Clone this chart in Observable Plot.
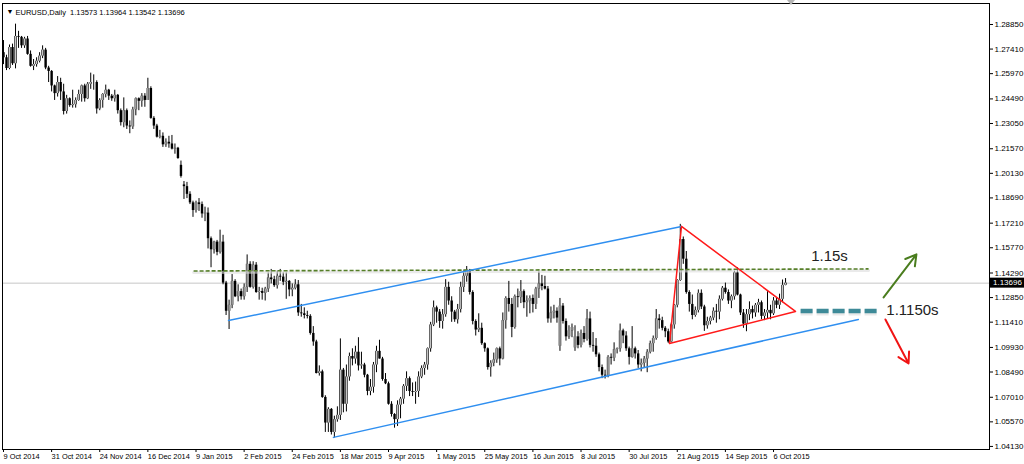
<!DOCTYPE html>
<html><head><meta charset="utf-8">
<script src="https://cdn.jsdelivr.net/npm/d3@7"></script>
<script src="https://cdn.jsdelivr.net/npm/@observablehq/plot@0.6"></script>
<style>
html,body{margin:0;padding:0;background:#fff;}
#chart{position:relative;width:1024px;height:464px;overflow:hidden;background:#fff;}
#shift{position:absolute;left:787px;top:0px;width:0;height:0;border-left:4px solid transparent;border-right:4px solid transparent;border-top:5px solid #b4b4b4;}
</style></head><body><div id="chart"></div>
<script>
const symbol = "EURUSD,Daily";

// Daily bars, 9 Oct 2014 .. 12 Oct 2015 (index 0..260)
const opens = [
1.2720,1.2690,1.2627,1.2750,1.2655,1.2815,1.2810,1.2760,1.2800,1.2710,1.2640,1.2650,1.2670,1.2700,1.2735,1.2630,1.2610,
1.2525,1.2480,1.2545,1.2490,1.2375,1.2450,1.2410,1.2415,1.2440,1.2475,1.2525,1.2450,1.2535,1.2545,1.2545,1.2390,1.2440,1.2475,1.2500,1.2465,
1.2450,1.2470,1.2380,1.2310,1.2380,1.2290,1.2285,1.2385,1.2450,1.2435,1.2465,1.2440,1.2510,1.2335,1.2290,1.2225,1.2230,1.2180,1.2195,1.2185,1.2155,1.2160,
1.2060,1.1945,1.1935,1.1890,1.1840,1.1795,1.1840,1.1830,1.1775,1.1780,1.1630,1.1565,1.1610,1.1550,1.1610,1.1370,1.1205,1.1240,1.1380,1.1290,1.1320,
1.1290,1.1345,1.1480,1.1345,1.1475,1.1315,1.1320,1.1310,1.1335,1.1400,1.1390,1.1355,1.1410,1.1405,1.1375,1.1380,1.1330,1.1340,1.1360,1.1195,
1.1190,1.1180,1.1175,1.1075,1.1025,1.0840,1.0850,1.0700,1.0550,1.0630,1.0495,1.0570,1.0595,1.0860,1.0660,1.0820,1.0940,1.0925,1.0965,1.0885,1.0890,1.0830,
1.0735,1.0760,1.0890,1.0970,1.0925,1.0805,1.0780,1.0660,1.0600,1.0570,1.0655,1.0690,1.0765,1.0810,1.0735,1.0730,1.0735,1.0820,1.0870,1.0890,1.0985,1.1125,
1.1225,1.1200,1.1145,1.1185,1.1345,1.1265,1.1200,1.1155,1.1215,1.1345,1.1410,1.1445,1.1315,1.1145,1.1095,1.1105,1.1015,1.0985,1.0875,1.0900,1.0920,
1.0985,1.0925,1.1150,1.1280,1.1245,1.1110,1.1290,1.1285,1.1320,1.1255,1.1265,1.1280,1.1245,1.1335,1.1365,1.1350,1.1335,1.1160,1.1195,1.1205,1.1000,1.1235,
1.1145,1.1055,1.1090,1.0990,1.1055,1.1005,1.1075,1.1040,1.1160,1.1005,1.1000,1.0950,1.0875,1.0830,1.0825,1.0935,1.0930,1.0980,1.0985,1.1090,1.1060,1.0985,1.0935,
1.0985,1.0955,1.0890,1.0900,1.0925,1.0965,1.1015,1.1045,1.1160,1.1150,1.1105,1.1085,1.1025,1.1125,1.1240,1.1385,1.1625,1.1510,1.1315,1.1245,1.1180,
1.1210,1.1310,1.1230,1.1120,1.1145,1.1165,1.1205,1.1200,1.1275,1.1340,1.1315,1.1265,1.1290,1.1430,1.1300,1.1195,1.1130,1.1185,1.1215,1.1195,1.1240,1.1255,
1.1175,1.1195,1.1210,1.1190,1.1265,1.1240,1.1275,1.13573
];
const highs = [
1.2791,1.2705,1.2765,1.2770,1.2887,1.2845,1.2815,1.2810,1.2815,1.2730,1.2680,1.2690,1.2720,1.2760,1.2745,1.2640,1.2615,
1.2530,1.2580,1.2570,1.2535,1.2470,1.2455,1.2500,1.2455,1.2500,1.2530,1.2535,1.2545,1.2600,1.2590,1.2555,1.2450,1.2480,1.2530,1.2505,1.2475,
1.2500,1.2475,1.2390,1.2455,1.2390,1.2320,1.2400,1.2455,1.2455,1.2480,1.2480,1.2570,1.2520,1.2345,1.2300,1.2265,1.2250,1.2215,1.2230,1.2235,1.2185,1.2165,
1.2085,1.1965,1.1960,1.1905,1.1850,1.1850,1.1865,1.1845,1.1815,1.1810,1.1640,1.1615,1.1620,1.1680,1.1650,1.1380,1.1270,1.1420,1.1390,1.1360,1.1335,
1.1365,1.1535,1.1495,1.1495,1.1490,1.1345,1.1340,1.1345,1.1430,1.1450,1.1410,1.1440,1.1450,1.1430,1.1430,1.1385,1.1365,1.1390,1.1385,1.1245,
1.1225,1.1205,1.1185,1.1115,1.1035,1.0885,1.0860,1.0710,1.0640,1.0635,1.0590,1.0645,1.1043,1.0870,1.0890,1.0960,1.0985,1.1000,1.1050,1.0965,1.0900,1.0835,
1.0805,1.0905,1.1000,1.1035,1.0935,1.0840,1.0790,1.0675,1.0605,1.0680,1.0700,1.0775,1.0850,1.0820,1.0785,1.0790,1.0850,1.0885,1.0905,1.0990,1.1140,1.1265,
1.1235,1.1215,1.1215,1.1390,1.1375,1.1290,1.1210,1.1245,1.1375,1.1445,1.1467,1.1450,1.1325,1.1155,1.1190,1.1135,1.1020,1.0990,1.0915,1.0960,1.0990,
1.0995,1.1195,1.1290,1.1380,1.1280,1.1300,1.1335,1.1385,1.1330,1.1295,1.1295,1.1300,1.1345,1.1436,1.1415,1.1410,1.1350,1.1230,1.1240,1.1225,1.1280,1.1250,
1.1160,1.1120,1.1130,1.1120,1.1085,1.1095,1.1115,1.1215,1.1200,1.1080,1.1045,1.0960,1.0890,1.0860,1.0945,1.0955,1.1020,1.0990,1.1130,1.1100,1.1085,1.0995,1.1115,
1.0995,1.0975,1.0925,1.0940,1.0980,1.1030,1.1060,1.1215,1.1185,1.1170,1.1115,1.1100,1.1135,1.1245,1.1390,1.1714,1.1640,1.1555,1.1325,1.1300,1.1230,
1.1330,1.1330,1.1240,1.1170,1.1175,1.1225,1.1245,1.1295,1.1350,1.1370,1.1330,1.1300,1.1440,1.1460,1.1305,1.1215,1.1215,1.1260,1.1235,1.1250,1.1275,1.1265,
1.1215,1.1320,1.1240,1.1285,1.1280,1.1305,1.1388,1.13964
];
const lows = [
1.2650,1.2615,1.2620,1.2645,1.2625,1.2745,1.2745,1.2745,1.2705,1.2635,1.2615,1.2635,1.2660,1.2685,1.2620,1.2545,1.2490,
1.2440,1.2460,1.2440,1.2355,1.2360,1.2400,1.2395,1.2395,1.2435,1.2430,1.2430,1.2445,1.2505,1.2500,1.2360,1.2380,1.2395,1.2455,1.2440,1.2435,
1.2430,1.2360,1.2290,1.2280,1.2270,1.2245,1.2270,1.2350,1.2380,1.2400,1.2400,1.2440,1.2330,1.2270,1.2220,1.2215,1.2165,1.2165,1.2160,1.2150,1.2125,1.2095,
1.1985,1.1860,1.1865,1.1830,1.1755,1.1780,1.1790,1.1750,1.1730,1.1570,1.1460,1.1540,1.1530,1.1540,1.1360,1.1180,1.1098,1.1220,1.1285,1.1260,1.1270,
1.1270,1.1315,1.1340,1.1335,1.1310,1.1270,1.1270,1.1265,1.1315,1.1365,1.1345,1.1335,1.1380,1.1355,1.1275,1.1290,1.1290,1.1330,1.1175,1.1170,
1.1160,1.1160,1.1065,1.1000,1.0838,1.0825,1.0695,1.0495,1.0495,1.0480,1.0462,1.0555,1.0565,1.0610,1.0615,1.0795,1.0885,1.0895,1.0855,1.0865,1.0815,1.0710,
1.0710,1.0725,1.0845,1.0925,1.0795,1.0775,1.0655,1.0585,1.0520,1.0530,1.0575,1.0660,1.0735,1.0705,1.0705,1.0660,1.0700,1.0810,1.0830,1.0860,1.0965,1.1115,
1.1135,1.1105,1.1100,1.1170,1.1240,1.1140,1.1140,1.1130,1.1195,1.1315,1.1375,1.1300,1.1125,1.1060,1.1080,1.1005,1.0965,1.0860,1.0819,1.0880,1.0900,
1.0885,1.0920,1.1100,1.1200,1.1050,1.1100,1.1225,1.1250,1.1220,1.1170,1.1190,1.1195,1.1215,1.1280,1.1325,1.1330,1.1135,1.1135,1.1160,1.1135,1.0970,1.1130,
1.1030,1.1040,1.1050,1.0970,1.0985,1.0990,1.1020,1.1030,1.0990,1.0965,1.0935,1.0850,1.0810,1.0808,1.0815,1.0890,1.0910,1.0955,1.0965,1.1015,1.0970,1.0890,1.0930,
1.0925,1.0870,1.0850,1.0875,1.0845,1.0955,1.0965,1.1035,1.1100,1.1090,1.1050,1.1017,1.1020,1.1100,1.1225,1.1380,1.1480,1.1305,1.1200,1.1155,1.1170,
1.1195,1.1215,1.1087,1.1100,1.1125,1.1150,1.1135,1.1155,1.1265,1.1305,1.1245,1.1220,1.1270,1.1295,1.1180,1.1105,1.1085,1.1150,1.1160,1.1170,1.1195,1.1155,
1.1150,1.1160,1.1155,1.1180,1.1220,1.1215,1.1255,1.13542
];
const closes = [
1.2690,1.2627,1.2750,1.2655,1.2815,1.2810,1.2760,1.2800,1.2710,1.2640,1.2650,1.2670,1.2700,1.2735,1.2630,1.2610,1.2525,
1.2480,1.2545,1.2490,1.2375,1.2450,1.2410,1.2415,1.2440,1.2475,1.2525,1.2450,1.2535,1.2545,1.2545,1.2390,1.2440,1.2475,1.2500,1.2465,1.2450,
1.2470,1.2380,1.2310,1.2380,1.2290,1.2285,1.2385,1.2450,1.2435,1.2465,1.2440,1.2510,1.2335,1.2290,1.2225,1.2230,1.2180,1.2195,1.2185,1.2155,1.2160,1.2100,
1.1995,1.1935,1.1890,1.1840,1.1795,1.1840,1.1830,1.1775,1.1780,1.1630,1.1565,1.1610,1.1550,1.1610,1.1370,1.1205,1.1240,1.1380,1.1290,1.1320,1.1290,
1.1345,1.1480,1.1345,1.1475,1.1315,1.1320,1.1310,1.1335,1.1400,1.1390,1.1355,1.1410,1.1405,1.1375,1.1380,1.1330,1.1340,1.1360,1.1195,1.1190,
1.1180,1.1175,1.1075,1.1025,1.0840,1.0850,1.0700,1.0550,1.0630,1.0495,1.0570,1.0595,1.0860,1.0660,1.0820,1.0940,1.0925,1.0965,1.0885,1.0890,1.0830,1.0735,
1.0760,1.0890,1.0970,1.0925,1.0805,1.0780,1.0660,1.0600,1.0570,1.0655,1.0690,1.0765,1.0810,1.0735,1.0730,1.0735,1.0820,1.0870,1.0890,1.0985,1.1125,1.1225,
1.1200,1.1145,1.1185,1.1345,1.1265,1.1200,1.1155,1.1215,1.1345,1.1410,1.1445,1.1315,1.1145,1.1095,1.1105,1.1015,1.0985,1.0875,1.0900,1.0920,1.0985,
1.0925,1.1150,1.1280,1.1245,1.1110,1.1290,1.1285,1.1320,1.1255,1.1265,1.1280,1.1245,1.1335,1.1365,1.1350,1.1335,1.1160,1.1195,1.1205,1.1165,1.1235,1.1145,
1.1055,1.1090,1.1110,1.1055,1.1005,1.1075,1.1040,1.1160,1.1005,1.1000,1.0950,1.0875,1.0830,1.0825,1.0935,1.0930,1.0980,1.0985,1.1090,1.1060,1.0985,1.0935,1.0985,
1.0955,1.0890,1.0900,1.0925,1.0965,1.1015,1.1045,1.1160,1.1150,1.1105,1.1085,1.1025,1.1125,1.1240,1.1385,1.1625,1.1510,1.1315,1.1245,1.1180,1.1210,
1.1310,1.1230,1.1120,1.1145,1.1165,1.1205,1.1200,1.1275,1.1340,1.1315,1.1265,1.1290,1.1430,1.1300,1.1195,1.1130,1.1185,1.1215,1.1195,1.1240,1.1255,1.1175,
1.1195,1.1210,1.1190,1.1265,1.1240,1.1275,1.1357,1.13696
];

// time axis labels (every 16th bar)
const dateTickIndex = [0,16,32,48,64,80,96,112,128,144,160,176,192,208,224,240,256];
const dateTickLabels = ["9 Oct 2014","31 Oct 2014","24 Nov 2014","16 Dec 2014","9 Jan 2015","2 Feb 2015","24 Feb 2015","18 Mar 2015","9 Apr 2015","1 May 2015","25 May 2015","16 Jun 2015","8 Jul 2015","30 Jul 2015","21 Aug 2015","14 Sep 2015","6 Oct 2015"];
const priceTicks = [1.28850,1.27410,1.25970,1.24490,1.23050,1.21570,1.20130,1.18690,1.17210,1.15770,1.14290,1.12850,1.11410,1.09930,1.08490,1.07010,1.05570,1.04130];

// drawn objects (bar index, price)
const channelUpper = [{i:74.8,p:1.1151},{i:225.4,p:1.1702}];
const channelLower = [{i:109.7,p:1.0466},{i:284.2,p:1.1157}];
const triangle = [{i:225.4,p:1.1702},{i:263.3,p:1.1204},{i:221.4,p:1.1016},{i:225.4,p:1.1702}];
const resistance = [{i:63.2,p:1.1441},{i:287.6,p:1.1453}];
const support = [{i:265.0,p:1.1207},{i:290.9,p:1.1207}];
const arrowUp = [{i1:292.6,p1:1.1286,i2:303.5,p2:1.1538}];
const arrowDown = [{i1:293.2,p1:1.1157,i2:300.9,p2:1.0899}];
const noteHigh = [{i:274.6,p:1.1526,t:"1.15s"}];
const noteLow = [{i:293.5,p:1.1209,t:"1.1150s"}];

const bars = opens.map((o,i)=>({i, open:o, high:highs[i], low:lows[i], close:closes[i]}));
const bulls = bars.filter(d=>d.close>=d.open);
const bears = bars.filter(d=>d.close<d.open);
const last = bars[bars.length-1];
const f5 = v => v.toFixed(5);
const header = `${symbol}  ${f5(last.open)} ${f5(last.high)} ${f5(last.low)} ${f5(last.close)}`;

const plot = Plot.plot({
  width: 1024, height: 464,
  marginLeft: 2, marginRight: 35, marginTop: 3, marginBottom: 15,
  style: {fontFamily: "'Liberation Sans', Arial, sans-serif", fontSize: "8px", background: "#fff", overflow: "visible", color: "#000"},
  x: {type: "linear", domain: [-0.33, 327.8], axis: null},
  y: {domain: [1.0395, 1.3008], axis: null},
  marks: [
    Plot.ruleY([last.close], {stroke: "#c6c6c6", strokeWidth: 1}),
    Plot.ruleX(bars, {x: "i", y1: "low", y2: "high", stroke: "#000", strokeWidth: 1}),
    Plot.ruleX(bears, {x: "i", y1: "open", y2: "close", stroke: "#000", strokeWidth: 2.4}),
    Plot.ruleX(bulls, {x: "i", y1: "open", y2: "close", stroke: "#222", strokeWidth: 2.6}),
    Plot.ruleX(bulls, {x: "i", y1: "open", y2: "close", stroke: "#c8c8c8", strokeWidth: 1.2}),
    Plot.line(resistance, {x: "i", y: "p", stroke: "#dcdcdc", strokeWidth: 3, strokeOpacity: 0.6, dy: 1.5}),
    Plot.line(resistance, {x: "i", y: "p", stroke: "#567f28", strokeWidth: 1.6, strokeDasharray: "4,2", strokeLinecap: "butt"}),
    Plot.line(channelUpper, {x: "i", y: "p", stroke: "#2f8ff0", strokeWidth: 1.5}),
    Plot.line(channelLower, {x: "i", y: "p", stroke: "#2f8ff0", strokeWidth: 1.5}),
    Plot.line(triangle, {x: "i", y: "p", stroke: "#ff1a1a", strokeWidth: 1.5}),
    Plot.line(support, {x: "i", y: "p", stroke: "#d4d4d4", strokeWidth: 6, strokeOpacity: 0.5, dy: 1.5, strokeDasharray: "12,4", strokeLinecap: "butt"}),
    Plot.line(support, {x: "i", y: "p", stroke: "#3e8a98", strokeWidth: 4.5, strokeDasharray: "12,4", strokeLinecap: "butt"}),
    Plot.arrow(arrowUp, {x1: "i1", y1: "p1", x2: "i2", y2: "p2", stroke: "#4a7d1e", strokeWidth: 2, headLength: 9}),
    Plot.arrow(arrowDown, {x1: "i1", y1: "p1", x2: "i2", y2: "p2", stroke: "#f01414", strokeWidth: 2, headLength: 9}),
    Plot.text(noteHigh, {x: "i", y: "p", text: "t", fontSize: 15, fill: "#222", textAnchor: "middle"}),
    Plot.text(noteLow, {x: "i", y: "p", text: "t", fontSize: 15, fill: "#222", textAnchor: "start"}),
    Plot.text(["\u25BC"], {frameAnchor: "top-left", dx: 4, dy: 6, fontSize: 7, fill: "#000", textAnchor: "start"}),
    Plot.text([header], {frameAnchor: "top-left", dx: 13, dy: 6, fontSize: 7.5, fill: "#000", textAnchor: "start"}),
    Plot.axisY(priceTicks, {anchor: "right", tickSize: 3, tickPadding: 2, tickFormat: f5, fontSize: 8, label: null}),
    Plot.axisX(dateTickIndex, {anchor: "bottom", tickSize: 3, tickPadding: 1, textAnchor: "start", fontSize: 7.4, label: null,
      tickFormat: d => dateTickLabels[dateTickIndex.indexOf(d)]}),
    Plot.frame({stroke: "#000"})
  ]
});
document.getElementById("chart").appendChild(plot);

// current price marker on the price axis
const ySc = plot.scale("y"), xSc = plot.scale("x");
const yy = ySc.apply(last.close);
const xr = xSc.range[1];
const svg = d3.select(plot);
const g = svg.append("g").attr("text-anchor", "start");
g.append("rect").attr("x", xr + 1).attr("y", yy - 5).attr("width", 1024 - xr - 1).attr("height", 10).attr("fill", "#000");
g.append("text").attr("x", xr + 4).attr("y", yy).attr("dy", "0.35em").attr("fill", "#fff").attr("text-anchor", "start")
  .attr("font-size", 8).attr("font-family", "'Liberation Sans', Arial, sans-serif").text(f5(last.close));

const s = document.createElement("div"); s.id = "shift";
document.getElementById("chart").appendChild(s);
</script></body></html>
